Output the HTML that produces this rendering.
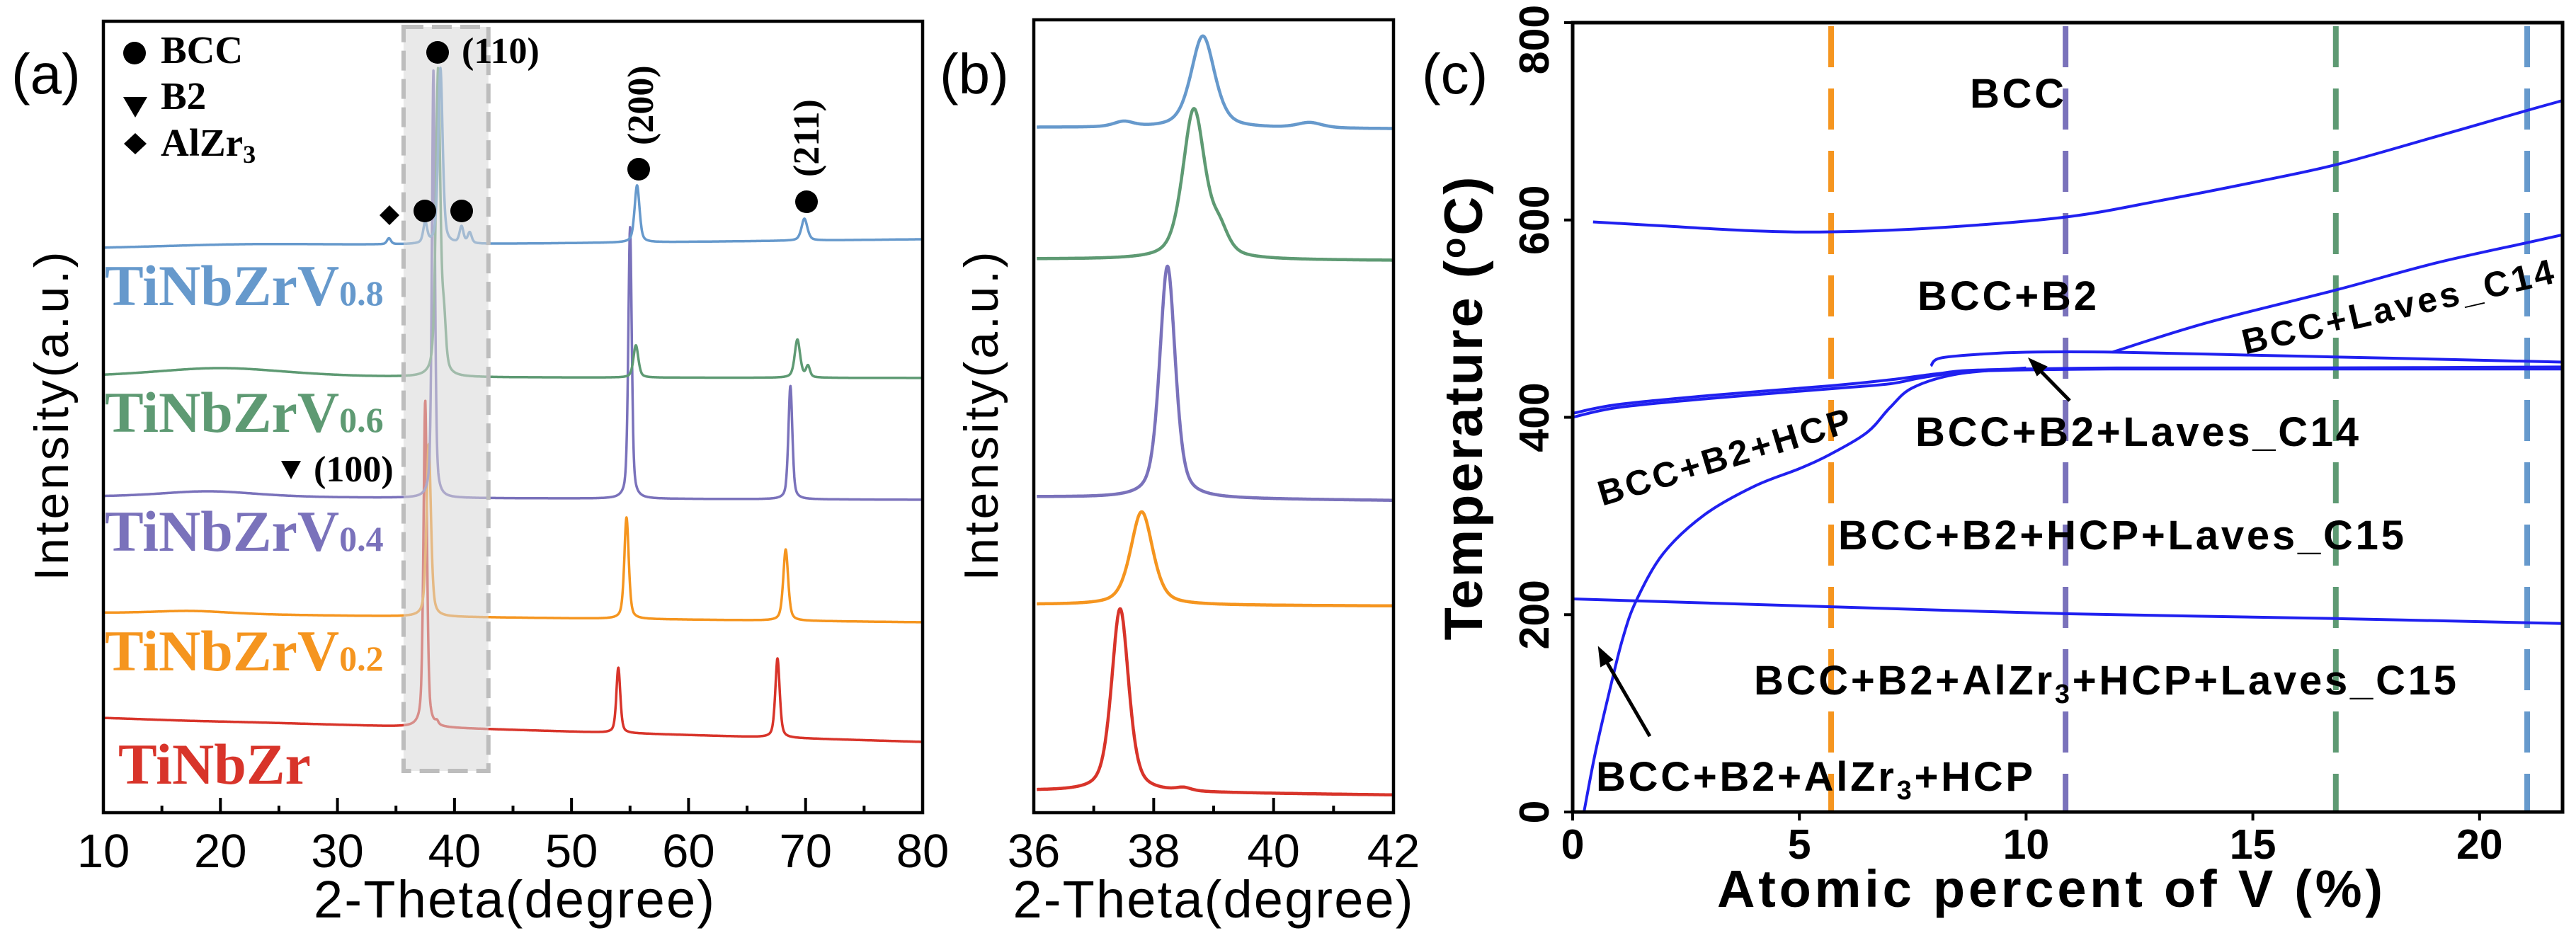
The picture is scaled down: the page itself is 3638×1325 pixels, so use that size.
<!DOCTYPE html>
<html><head><meta charset="utf-8"><style>
html,body{margin:0;padding:0;background:#fff;}
svg{display:block;}
.sans{font-family:"Liberation Sans",Arial,sans-serif;}
.serif{font-family:"Liberation Serif","Times New Roman",serif;font-weight:bold;}
.b{font-weight:bold;}
</style></head><body>
<svg id="fig" width="3638" height="1325" viewBox="0 0 3638 1325" xmlns="http://www.w3.org/2000/svg">
<g id="pa"></g>
<g id="pb"></g>
<g id="pc"></g>

<text class="sans" x="16" y="132" font-size="80">(a)</text>
<text class="sans" x="0" y="0" font-size="68" text-anchor="middle" transform="translate(96,588) rotate(-90)" textLength="465">Intensity(a.u.)</text>
<text class="sans" x="726" y="1296" font-size="74" text-anchor="middle" textLength="566">2-Theta(degree)</text>
<g>
 <circle cx="190" cy="75" r="16" fill="#000"/>
 <text class="serif" x="227" y="89" font-size="55">BCC</text>
 <path d="M174,137 L208,137 L191,166 Z" fill="#000"/>
 <text class="serif" x="227" y="154" font-size="55">B2</text>
 <path d="M191,188 L207,203 L191,218 L175,203 Z" fill="#000"/>
 <text class="serif" x="227" y="220" font-size="55">AlZr<tspan font-size="36" dy="10">3</tspan></text>
</g>
<g>
 <circle cx="618" cy="74" r="16" fill="#000"/>
 <text class="serif" x="652" y="89" font-size="52">(110)</text>
 <circle cx="902" cy="239" r="16" fill="#000"/>
 <text class="serif" font-size="52" transform="translate(922,205) rotate(-90)">(200)</text>
 <circle cx="1139" cy="285" r="16" fill="#000"/>
 <text class="serif" font-size="52" transform="translate(1156,250) rotate(-90)">(211)</text>
 <path d="M550,290 L564,304 L550,318 L536,304 Z" fill="#000"/>
 <circle cx="600" cy="298" r="16" fill="#000"/>
 <circle cx="652" cy="298" r="16" fill="#000"/>
 <path d="M397,651 L425,651 L411,677 Z" fill="#000"/>
 <text class="serif" x="443" y="680" font-size="52">(100)</text>
</g>
<g>
 <text class="serif" x="148" y="431" font-size="82" fill="#6699cc">TiNbZrV<tspan font-size="50">0.8</tspan></text>
 <text class="serif" x="148" y="610" font-size="82" fill="#5e9a73">TiNbZrV<tspan font-size="50">0.6</tspan></text>
 <text class="serif" x="148" y="778" font-size="82" fill="#7a72bb">TiNbZrV<tspan font-size="50">0.4</tspan></text>
 <text class="serif" x="148" y="947" font-size="82" fill="#f5951f">TiNbZrV<tspan font-size="50">0.2</tspan></text>
 <text class="serif" x="167" y="1107" font-size="82" fill="#d8342a">TiNbZr</text>
</g>

<text class="sans" x="1327" y="132" font-size="80">(b)</text>
<text class="sans" font-size="68" text-anchor="middle" transform="translate(1409,588) rotate(-90)" textLength="465">Intensity(a.u.)</text>
<text class="sans" x="1713" y="1296" font-size="74" text-anchor="middle" textLength="565">2-Theta(degree)</text>

<text class="sans" x="2008" y="132" font-size="80">(c)</text>
<text class="sans b" font-size="76" text-anchor="middle" transform="translate(2093,577) rotate(-90)" textLength="655">Temperature (<tspan font-size="48" dy="-24">o</tspan><tspan dy="24">C)</tspan></text>
<text class="sans b" x="2895" y="1281" font-size="74" text-anchor="middle" textLength="940">Atomic percent of V (%)</text>
<g class="sans b" font-size="58">
 <text x="2782" y="152" textLength="133">BCC</text>
 <text x="2708" y="438" textLength="253">BCC+B2</text>
 <text x="0" y="0" font-size="50" text-anchor="middle" transform="translate(3390,450) rotate(-13)" textLength="450">BCC+Laves_C14</text>
 <text x="2705" y="630" textLength="626">BCC+B2+Laves_C14</text>
 <text x="0" y="0" font-size="50" text-anchor="middle" transform="translate(2440,662) rotate(-16.6)" textLength="370">BCC+B2+HCP</text>
 <text x="2596" y="776" textLength="799">BCC+B2+HCP+Laves_C15</text>
 <text x="2477" y="981" textLength="992">BCC+B2+AlZr<tspan font-size="38" dy="12">3</tspan><tspan dy="-12">+HCP+Laves_C15</tspan></text>
 <text x="2254" y="1117" textLength="617">BCC+B2+AlZr<tspan font-size="38" dy="12">3</tspan><tspan dy="-12">+HCP</tspan></text>
</g>
<g stroke="#000" stroke-width="5" fill="#000">
 <line x1="2923" y1="566" x2="2875" y2="517"/>
 <path d="M2866,507 L2890,518 L2877,530 Z" stroke-width="2"/>
 <line x1="2330" y1="1040" x2="2265" y2="928"/>
 <path d="M2258,915 L2277,932 L2261,941 Z" stroke-width="2"/>
</g>
</svg>
<script>
// ---------- Panel (a) data ----------
const aXTicks = [10,20,30,40,50,60,70,80];
const aSeriesNames = ['TiNbZr','TiNbZrV0.2','TiNbZrV0.4','TiNbZrV0.6','TiNbZrV0.8'];
const aColors = ['#d8342a','#f5951f','#7a72bb','#5e9a73','#6699cc'];
const aBaseLeft  = [134, 282, 446, 615, 797];
const aBaseRight = [100, 269, 442, 614, 810];
const aPeakPos = [
 [17, 37.5, 38.5, 54.0, 67.6],
 [17.5, 37.8, 54.7, 68.3],
 [19, 38.2, 55.0, 68.7],
 [20, 38.6, 39.1, 55.5, 69.3, 70.2],
 [22, 34.4, 37.5, 38.8, 40.6, 41.3, 55.6, 69.9]
];
const aPeakTop = [
 [130, 583, 125, 205, 218],
 [285, 521, 417, 372],
 [454, 1048, 827, 603],
 [628, 1047, 680, 660, 668, 630],
 [803, 810, 831, 1051, 826, 818, 886, 839]
];
const aPeakFwhm = [
 [8, 0.35, 0.3, 0.4, 0.45],
 [8, 0.45, 0.45, 0.5],
 [10, 0.3, 0.35, 0.4],
 [14, 0.45, 0.4, 0.5, 0.55, 0.4],
 [18, 0.4, 0.4, 0.45, 0.4, 0.4, 0.5, 0.6]
];
// ---------- Panel (b) data ----------
const bXTicks = [36,38,40,42];
const bMinorTicks = [37,39,41];
const bBaseLeft  = [31, 294, 446, 782, 968];
const bBaseRight = [25, 292, 441, 780, 966];
const bPeakPos = [[37.44, 38.5],[37.8],[38.23],[38.67, 39.1],[38.82, 37.5, 40.6]];
const bPeakTop = [[288, 33],[425],[772],[992, 814],[1097, 975, 974]];
const bPeakFwhm = [[0.34, 0.3],[0.44],[0.31],[0.44, 0.35],[0.47, 0.4, 0.5]];
// ---------- Panel (c) data ----------
const cXTicks = [0,5,10,15,20];
const cYTicks = [0,200,400,600,800];
const cCompositions = [5.7, 10.87, 16.83, 21.05];
const cCompColors = ['#f5951f','#7a72bb','#5e9a73','#6699cc'];
const cBccSolvus = [[0.45,598],[2,594],[4,589],[5.7,588],[8,592],[10.87,603],[13,620],[15,638],[16.83,656],[19,684],[21.05,711],[21.83,721]];
const cLavesC14 = [[11.9,466],[14,496],[16.83,529],[19,556],[21.05,577],[21.83,585]];
const cUpperFlat = [[7.9,452],[8.1,460],[9,464],[10,466],[12,466],[15,463],[18,460],[21.83,456]];
const cMainA = [[0,404],[1,413],[3,422],[5.7,432],[7,438],[8,444],[9,448],[12,450],[16,450],[21.83,451]];
const cMainB = [[0,400],[1,410],[3,419],[5.7,429],[7,434],[7.8,441],[9,447],[12,449],[16,449],[21.83,449]];
const cHcpCurve = [[0.25,0],[0.5,60],[0.8,120],[1.1,175],[1.4,214],[2,262],[2.9,301],[4,330],[5,348],[5.7,363],[6.5,385],[7,410],[7.5,430],[8.5,444],[10,450]];
const cAlZr3Line = [[0,216],[5.7,208],[10.87,201],[16.83,196],[21.83,191]];

const NS='http://www.w3.org/2000/svg';
function mk(tag, attrs, parent){const e=document.createElementNS(NS,tag);for(const k in attrs)e.setAttribute(k,attrs[k]);parent.appendChild(e);return e;}

function pv(x,c,w){const g=Math.exp(-4*Math.LN2*(x-c)*(x-c)/(w*w));const l=1/(1+4*(x-c)*(x-c)/(w*w));return 0.5*g+0.5*l;}
function xrdPath(xs, xe, step, bl, br, pos, top, fw, sx, sy){
  let d='';
  const base = x => bl + (br-bl)*(x-xs)/(xe-xs);
  for(let x=xs;x<=xe+1e-9;x+=step){
    let v=base(x);
    for(let i=0;i<pos.length;i++){v += (top[i]-base(pos[i]))*pv(x,pos[i],fw[i]);}
    d += (d?'L':'M')+sx(x).toFixed(1)+','+sy(v).toFixed(1);
  }
  return d;
}
function smoothPath(P){
  let d='M'+P[0][0].toFixed(1)+','+P[0][1].toFixed(1);
  for(let i=0;i<P.length-1;i++){
    const p0=P[Math.max(i-1,0)],p1=P[i],p2=P[i+1],p3=P[Math.min(i+2,P.length-1)];
    const c1=[p1[0]+(p2[0]-p0[0])/6,p1[1]+(p2[1]-p0[1])/6];
    const c2=[p2[0]-(p3[0]-p1[0])/6,p2[1]-(p3[1]-p1[1])/6];
    d+='C'+c1[0].toFixed(1)+','+c1[1].toFixed(1)+' '+c2[0].toFixed(1)+','+c2[1].toFixed(1)+' '+p2[0].toFixed(1)+','+p2[1].toFixed(1);
  }
  return d;
}

(function(){
 const g=document.getElementById('pa');
 const L=146,R=1303,T=30,B=1148;
 const sx=x=>L+(x-10)*(R-L)/70, sy=v=>B-v;
 const cl=mk('clipPath',{id:'clipA'},g); mk('rect',{x:L,y:T,width:R-L,height:B-T},cl);
 const cg=mk('g',{'clip-path':'url(#clipA)'},g);
 for(let s=0;s<aSeriesNames.length;s++){
  const p=mk('path',{d:xrdPath(10,80,0.03,aBaseLeft[s],aBaseRight[s],aPeakPos[s],aPeakTop[s],aPeakFwhm[s],sx,sy),fill:'none',stroke:aColors[s],'stroke-width':3.5,'stroke-linejoin':'round'},cg);
  
  
 }
 const box=mk('rect',{x:sx(35.65),y:38,width:sx(42.9)-sx(35.65),height:1051,fill:'rgba(215,215,215,0.55)',stroke:'#bdbdbd','stroke-width':6,'stroke-dasharray':'28,12'},g);
 
 
 const fr=mk('rect',{x:L,y:T,width:R-L,height:B-T,fill:'none',stroke:'#000','stroke-width':4.5},g);
 
 
 for(let t=15;t<80;t+=10){mk('line',{x1:sx(t),x2:sx(t),y1:B,y2:B-10,stroke:'#000','stroke-width':4},g);}
 aXTicks.forEach(t=>{
  mk('line',{x1:sx(t),x2:sx(t),y1:B,y2:B-21,stroke:'#000','stroke-width':4},g);
  const tx=mk('text',{x:sx(t),y:1225,'font-size':67,'text-anchor':'middle',class:'sans'},g);
  tx.textContent=t;
  
  
 });
})();

(function(){
 const g=document.getElementById('pb');
 const L=1460,R=1968,T=28,B=1148;
 const sx=x=>L+(x-36)*(R-L)/6, sy=v=>B-v;
 const cl=mk('clipPath',{id:'clipB'},g); mk('rect',{x:L,y:T,width:R-L,height:B-T},cl);
 const cg=mk('g',{'clip-path':'url(#clipB)'},g);
 for(let s=0;s<5;s++){
  const p=mk('path',{d:xrdPath(36.05,42,0.005,bBaseLeft[s],bBaseRight[s],bPeakPos[s],bPeakTop[s],bPeakFwhm[s],sx,sy),fill:'none',stroke:aColors[s],'stroke-width':4.5,'stroke-linejoin':'round'},cg);
  
  
 }
 const fr=mk('rect',{x:L,y:T,width:R-L,height:B-T,fill:'none',stroke:'#000','stroke-width':4.5},g);
 
 
 bMinorTicks.forEach(t=>mk('line',{x1:sx(t),x2:sx(t),y1:B,y2:B-10,stroke:'#000','stroke-width':4},g));
 bXTicks.forEach(t=>{
  mk('line',{x1:sx(t),x2:sx(t),y1:B,y2:B-21,stroke:'#000','stroke-width':4},g);
  const tx=mk('text',{x:sx(t),y:1225,'font-size':67,'text-anchor':'middle',class:'sans'},g);
  tx.textContent=t;
  
  
 });
})();

(function(){
 const g=document.getElementById('pc');
 const L=2221,R=3619,T=32,B=1147;
 const sx=x=>L+x*(R-L)/21.83, sy=v=>B-v*(B-T)/800;
 const cl=mk('clipPath',{id:'clipC'},g); mk('rect',{x:L,y:T,width:R-L,height:B-T},cl);
 const cg=mk('g',{'clip-path':'url(#clipC)'},g);
 cCompositions.forEach((c,i)=>{
  const l=mk('line',{x1:sx(c),x2:sx(c),y1:T+5,y2:B,stroke:cCompColors[i],'stroke-width':8,'stroke-dasharray':'58,30'},cg);
  
  
 });
 const curves=[cBccSolvus,cLavesC14,cUpperFlat,cMainA,cMainB,cHcpCurve,cAlZr3Line];
 const names=['bcc-solvus','laves-c14-boundary','upper-flat-boundary','main-boundary-a','main-boundary-b','hcp-boundary','alzr3-boundary'];
 curves.forEach((pts,i)=>{
  const P=pts.map(p=>[sx(p[0]),sy(p[1])]);
  const p=mk('path',{d:smoothPath(P),fill:'none',stroke:'#2020f0','stroke-width':4,'stroke-linejoin':'round'},cg);
  
  
 });
 const fr=mk('rect',{x:L,y:T,width:R-L,height:B-T,fill:'none',stroke:'#000','stroke-width':5},g);
 
 
 cXTicks.forEach(t=>{
  mk('line',{x1:sx(t),x2:sx(t),y1:B,y2:B+12,stroke:'#000','stroke-width':4},g);
  const tx=mk('text',{x:sx(t),y:1213,'font-size':59,'text-anchor':'middle',class:'sans b'},g);
  tx.textContent=t;
  
  
 });
 cYTicks.forEach(t=>{
  mk('line',{x1:L,x2:L-12,y1:sy(t),y2:sy(t),stroke:'#000','stroke-width':4},g);
  const cy=Math.max(sy(t),56);
  const tx=mk('text',{x:0,y:0,'font-size':59,'text-anchor':'middle',class:'sans b',transform:'translate(2187,'+cy+') rotate(-90)'},g);
  tx.textContent=t;
  
  
 });
})();
</script>
</body></html>
